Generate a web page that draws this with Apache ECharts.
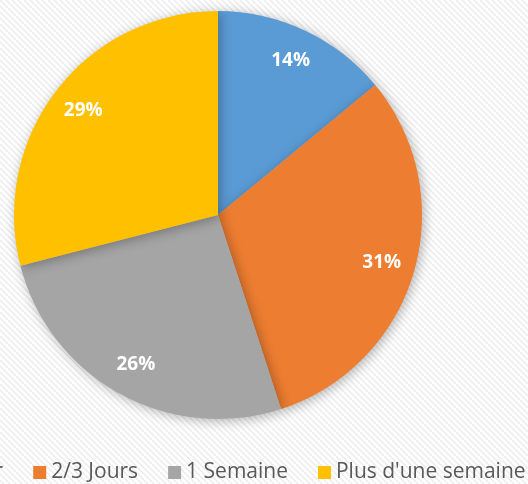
<!DOCTYPE html>
<html>
<head>
<meta charset="utf-8">
<script src="https://cdn.jsdelivr.net/npm/echarts@6/dist/echarts.min.js"></script>
<style>
  html, body { margin: 0; padding: 0; background: #fff; }
  #chart { width: 528px; height: 484px; }
</style>
</head>
<body>
<div id="chart"></div>
<script>
// délai de réponse
const categories = ['1 Jour', '2/3 Jours', '1 Semaine', "Plus d'une semaine"];
const values = [14, 31, 26, 29];
const colors = ['#5B9BD5', '#ED7D31', '#A5A5A5', '#FFC000'];

// fond rayé léger
const tile = document.createElement('canvas');
tile.width = 6;
tile.height = 6;
const tctx = tile.getContext('2d');
tctx.fillStyle = '#ffffff';
tctx.fillRect(0, 0, 6, 6);
tctx.strokeStyle = '#ececec';
tctx.lineWidth = 1.5;
tctx.beginPath();
tctx.moveTo(-1, -1); tctx.lineTo(7, 7);
tctx.moveTo(-4, 2); tctx.lineTo(2, 8);
tctx.moveTo(2, -4); tctx.lineTo(8, 2);
tctx.stroke();

const chart = echarts.init(document.getElementById('chart'));
const data = categories.map((c, i) => ({ name: c, value: values[i], itemStyle: { color: colors[i] } }));

chart.setOption({
  backgroundColor: { image: tile, repeat: 'repeat' },
  legend: {
    data: categories,
    left: -77,
    top: 457,
    width: 900,
    icon: 'rect',
    itemWidth: 13,
    itemHeight: 13,
    itemGap: 30,
    textStyle: { color: '#595959', fontSize: 21, fontFamily: 'Open Sans' },
  },
  series: [
    {
      type: 'pie',
      center: [218, 215],
      radius: [0, 204],
      startAngle: 90,
      clockwise: true,
      silent: true,
      data: data,
      label: { show: false },
      labelLine: { show: false },
      itemStyle: {
        shadowBlur: 12,
        shadowColor: 'rgba(0,0,0,0.3)',
        shadowOffsetX: 2,
        shadowOffsetY: 2,
      },
    },
    {
      // labels only, placed near the rim
      type: 'pie',
      center: [218, 215],
      radius: [145, 190],
      startAngle: 90,
      silent: true,
      legendHoverLink: false,
      data: categories.map((c, i) => ({ name: c, value: values[i], itemStyle: { color: 'transparent' } })),
      label: {
        show: true,
        position: 'inside',
        formatter: (p) => p.value + '%',
        color: '#fff',
        fontSize: 19,
        fontWeight: 'bold',
        fontFamily: 'Open Sans',
      },
      labelLine: { show: false },
    },
  ],
});
</script>
</body>
</html>
